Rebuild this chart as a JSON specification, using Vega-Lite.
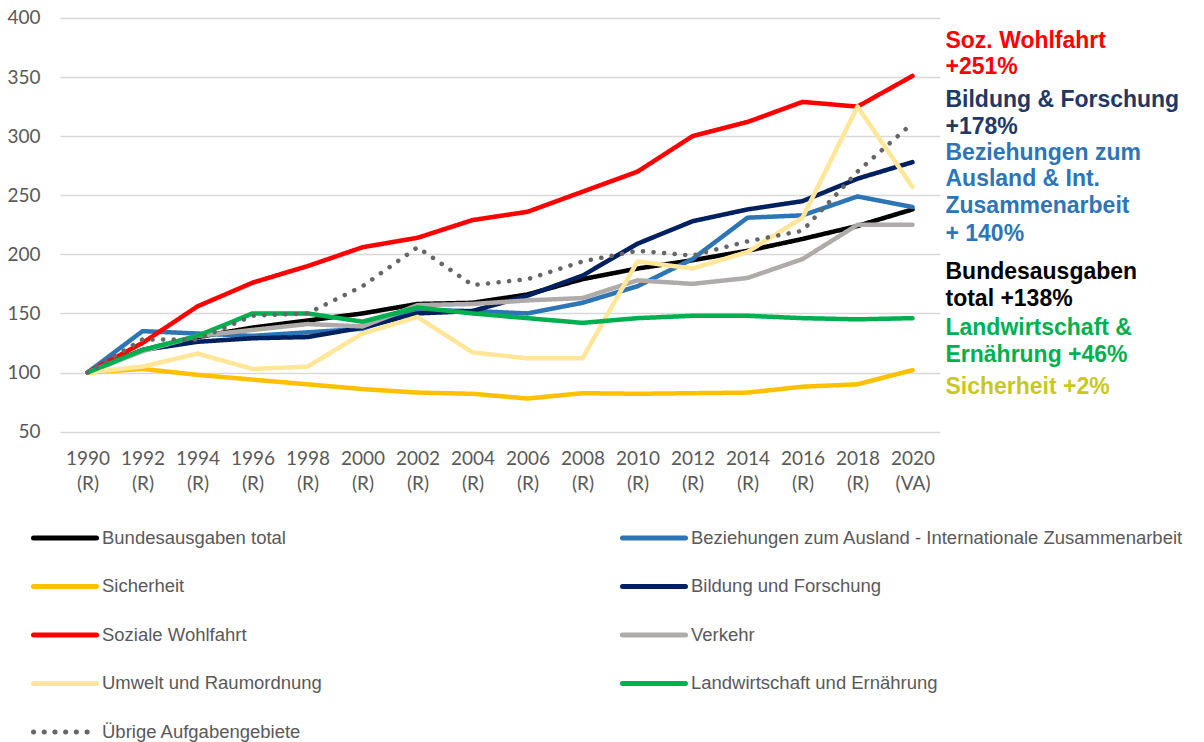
{
  "$schema": "https://vega.github.io/schema/vega-lite/v6.json",
  "width": 880,
  "height": 413.6,
  "autosize": {"type": "none"},
  "padding": {"left": 60, "top": 18, "right": 264, "bottom": 310},
  "background": "white",
  "config": {"view": {"stroke": null}, "font": "Liberation Sans"},
  "datasets": {
    "lines": [
      {"year": "1990", "series": "Bundesausgaben total", "value": 100},
      {"year": "1992", "series": "Bundesausgaben total", "value": 119},
      {"year": "1994", "series": "Bundesausgaben total", "value": 130},
      {"year": "1996", "series": "Bundesausgaben total", "value": 138},
      {"year": "1998", "series": "Bundesausgaben total", "value": 144},
      {"year": "2000", "series": "Bundesausgaben total", "value": 150},
      {"year": "2002", "series": "Bundesausgaben total", "value": 158},
      {"year": "2004", "series": "Bundesausgaben total", "value": 159},
      {"year": "2006", "series": "Bundesausgaben total", "value": 166},
      {"year": "2008", "series": "Bundesausgaben total", "value": 179},
      {"year": "2010", "series": "Bundesausgaben total", "value": 188},
      {"year": "2012", "series": "Bundesausgaben total", "value": 195},
      {"year": "2014", "series": "Bundesausgaben total", "value": 203},
      {"year": "2016", "series": "Bundesausgaben total", "value": 213},
      {"year": "2018", "series": "Bundesausgaben total", "value": 224},
      {"year": "2020", "series": "Bundesausgaben total", "value": 238},
      {"year": "1990", "series": "Beziehungen zum Ausland - Internationale Zusammenarbeit", "value": 100},
      {"year": "1992", "series": "Beziehungen zum Ausland - Internationale Zusammenarbeit", "value": 135},
      {"year": "1994", "series": "Beziehungen zum Ausland - Internationale Zusammenarbeit", "value": 133},
      {"year": "1996", "series": "Beziehungen zum Ausland - Internationale Zusammenarbeit", "value": 131},
      {"year": "1998", "series": "Beziehungen zum Ausland - Internationale Zusammenarbeit", "value": 134},
      {"year": "2000", "series": "Beziehungen zum Ausland - Internationale Zusammenarbeit", "value": 137},
      {"year": "2002", "series": "Beziehungen zum Ausland - Internationale Zusammenarbeit", "value": 153},
      {"year": "2004", "series": "Beziehungen zum Ausland - Internationale Zusammenarbeit", "value": 152},
      {"year": "2006", "series": "Beziehungen zum Ausland - Internationale Zusammenarbeit", "value": 150},
      {"year": "2008", "series": "Beziehungen zum Ausland - Internationale Zusammenarbeit", "value": 159},
      {"year": "2010", "series": "Beziehungen zum Ausland - Internationale Zusammenarbeit", "value": 173},
      {"year": "2012", "series": "Beziehungen zum Ausland - Internationale Zusammenarbeit", "value": 196},
      {"year": "2014", "series": "Beziehungen zum Ausland - Internationale Zusammenarbeit", "value": 231},
      {"year": "2016", "series": "Beziehungen zum Ausland - Internationale Zusammenarbeit", "value": 233},
      {"year": "2018", "series": "Beziehungen zum Ausland - Internationale Zusammenarbeit", "value": 249},
      {"year": "2020", "series": "Beziehungen zum Ausland - Internationale Zusammenarbeit", "value": 240},
      {"year": "1990", "series": "Sicherheit", "value": 100},
      {"year": "1992", "series": "Sicherheit", "value": 103},
      {"year": "1994", "series": "Sicherheit", "value": 98},
      {"year": "1996", "series": "Sicherheit", "value": 94},
      {"year": "1998", "series": "Sicherheit", "value": 90},
      {"year": "2000", "series": "Sicherheit", "value": 86},
      {"year": "2002", "series": "Sicherheit", "value": 83},
      {"year": "2004", "series": "Sicherheit", "value": 82},
      {"year": "2006", "series": "Sicherheit", "value": 78},
      {"year": "2008", "series": "Sicherheit", "value": 82.5},
      {"year": "2010", "series": "Sicherheit", "value": 82},
      {"year": "2012", "series": "Sicherheit", "value": 82.5},
      {"year": "2014", "series": "Sicherheit", "value": 83},
      {"year": "2016", "series": "Sicherheit", "value": 88},
      {"year": "2018", "series": "Sicherheit", "value": 90},
      {"year": "2020", "series": "Sicherheit", "value": 102},
      {"year": "1990", "series": "Bildung und Forschung", "value": 100},
      {"year": "1992", "series": "Bildung und Forschung", "value": 119},
      {"year": "1994", "series": "Bildung und Forschung", "value": 126},
      {"year": "1996", "series": "Bildung und Forschung", "value": 129},
      {"year": "1998", "series": "Bildung und Forschung", "value": 130},
      {"year": "2000", "series": "Bildung und Forschung", "value": 138},
      {"year": "2002", "series": "Bildung und Forschung", "value": 150},
      {"year": "2004", "series": "Bildung und Forschung", "value": 152},
      {"year": "2006", "series": "Bildung und Forschung", "value": 165},
      {"year": "2008", "series": "Bildung und Forschung", "value": 182},
      {"year": "2010", "series": "Bildung und Forschung", "value": 209},
      {"year": "2012", "series": "Bildung und Forschung", "value": 228},
      {"year": "2014", "series": "Bildung und Forschung", "value": 238},
      {"year": "2016", "series": "Bildung und Forschung", "value": 245},
      {"year": "2018", "series": "Bildung und Forschung", "value": 264},
      {"year": "2020", "series": "Bildung und Forschung", "value": 278},
      {"year": "1990", "series": "Soziale Wohlfahrt", "value": 100},
      {"year": "1992", "series": "Soziale Wohlfahrt", "value": 125},
      {"year": "1994", "series": "Soziale Wohlfahrt", "value": 156},
      {"year": "1996", "series": "Soziale Wohlfahrt", "value": 176},
      {"year": "1998", "series": "Soziale Wohlfahrt", "value": 190},
      {"year": "2000", "series": "Soziale Wohlfahrt", "value": 206},
      {"year": "2002", "series": "Soziale Wohlfahrt", "value": 214},
      {"year": "2004", "series": "Soziale Wohlfahrt", "value": 229},
      {"year": "2006", "series": "Soziale Wohlfahrt", "value": 236},
      {"year": "2008", "series": "Soziale Wohlfahrt", "value": 253},
      {"year": "2010", "series": "Soziale Wohlfahrt", "value": 270},
      {"year": "2012", "series": "Soziale Wohlfahrt", "value": 300},
      {"year": "2014", "series": "Soziale Wohlfahrt", "value": 312},
      {"year": "2016", "series": "Soziale Wohlfahrt", "value": 329},
      {"year": "2018", "series": "Soziale Wohlfahrt", "value": 325},
      {"year": "2020", "series": "Soziale Wohlfahrt", "value": 351},
      {"year": "1990", "series": "Verkehr", "value": 100},
      {"year": "1992", "series": "Verkehr", "value": 118},
      {"year": "1994", "series": "Verkehr", "value": 131},
      {"year": "1996", "series": "Verkehr", "value": 136},
      {"year": "1998", "series": "Verkehr", "value": 141},
      {"year": "2000", "series": "Verkehr", "value": 139},
      {"year": "2002", "series": "Verkehr", "value": 157},
      {"year": "2004", "series": "Verkehr", "value": 158},
      {"year": "2006", "series": "Verkehr", "value": 161},
      {"year": "2008", "series": "Verkehr", "value": 163},
      {"year": "2010", "series": "Verkehr", "value": 178},
      {"year": "2012", "series": "Verkehr", "value": 175},
      {"year": "2014", "series": "Verkehr", "value": 180},
      {"year": "2016", "series": "Verkehr", "value": 196},
      {"year": "2018", "series": "Verkehr", "value": 225},
      {"year": "2020", "series": "Verkehr", "value": 225},
      {"year": "1990", "series": "Umwelt und Raumordnung", "value": 100},
      {"year": "1992", "series": "Umwelt und Raumordnung", "value": 105},
      {"year": "1994", "series": "Umwelt und Raumordnung", "value": 116},
      {"year": "1996", "series": "Umwelt und Raumordnung", "value": 103},
      {"year": "1998", "series": "Umwelt und Raumordnung", "value": 105},
      {"year": "2000", "series": "Umwelt und Raumordnung", "value": 133},
      {"year": "2002", "series": "Umwelt und Raumordnung", "value": 147},
      {"year": "2004", "series": "Umwelt und Raumordnung", "value": 117},
      {"year": "2006", "series": "Umwelt und Raumordnung", "value": 112},
      {"year": "2008", "series": "Umwelt und Raumordnung", "value": 112},
      {"year": "2010", "series": "Umwelt und Raumordnung", "value": 194},
      {"year": "2012", "series": "Umwelt und Raumordnung", "value": 188},
      {"year": "2014", "series": "Umwelt und Raumordnung", "value": 202},
      {"year": "2016", "series": "Umwelt und Raumordnung", "value": 231},
      {"year": "2018", "series": "Umwelt und Raumordnung", "value": 325},
      {"year": "2020", "series": "Umwelt und Raumordnung", "value": 257},
      {"year": "1990", "series": "Landwirtschaft und Ernährung", "value": 100},
      {"year": "1992", "series": "Landwirtschaft und Ernährung", "value": 119},
      {"year": "1994", "series": "Landwirtschaft und Ernährung", "value": 131},
      {"year": "1996", "series": "Landwirtschaft und Ernährung", "value": 150},
      {"year": "1998", "series": "Landwirtschaft und Ernährung", "value": 150},
      {"year": "2000", "series": "Landwirtschaft und Ernährung", "value": 143},
      {"year": "2002", "series": "Landwirtschaft und Ernährung", "value": 155},
      {"year": "2004", "series": "Landwirtschaft und Ernährung", "value": 150},
      {"year": "2006", "series": "Landwirtschaft und Ernährung", "value": 146},
      {"year": "2008", "series": "Landwirtschaft und Ernährung", "value": 142},
      {"year": "2010", "series": "Landwirtschaft und Ernährung", "value": 146},
      {"year": "2012", "series": "Landwirtschaft und Ernährung", "value": 148},
      {"year": "2014", "series": "Landwirtschaft und Ernährung", "value": 148},
      {"year": "2016", "series": "Landwirtschaft und Ernährung", "value": 146},
      {"year": "2018", "series": "Landwirtschaft und Ernährung", "value": 145},
      {"year": "2020", "series": "Landwirtschaft und Ernährung", "value": 146},
      {"year": "1990", "series": "Übrige Aufgabengebiete", "value": 100},
      {"year": "1992", "series": "Übrige Aufgabengebiete", "value": 128},
      {"year": "1994", "series": "Übrige Aufgabengebiete", "value": 128},
      {"year": "1996", "series": "Übrige Aufgabengebiete", "value": 148},
      {"year": "1998", "series": "Übrige Aufgabengebiete", "value": 150},
      {"year": "2000", "series": "Übrige Aufgabengebiete", "value": 173},
      {"year": "2002", "series": "Übrige Aufgabengebiete", "value": 206},
      {"year": "2004", "series": "Übrige Aufgabengebiete", "value": 174},
      {"year": "2006", "series": "Übrige Aufgabengebiete", "value": 179},
      {"year": "2008", "series": "Übrige Aufgabengebiete", "value": 194},
      {"year": "2010", "series": "Übrige Aufgabengebiete", "value": 203},
      {"year": "2012", "series": "Übrige Aufgabengebiete", "value": 199},
      {"year": "2014", "series": "Übrige Aufgabengebiete", "value": 211},
      {"year": "2016", "series": "Übrige Aufgabengebiete", "value": 220},
      {"year": "2018", "series": "Übrige Aufgabengebiete", "value": 270},
      {"year": "2020", "series": "Übrige Aufgabengebiete", "value": 311}
    ],
    "notes": [
      {"text": "Soz. Wohlfahrt", "group": "sw", "level": 374.3},
      {"text": "+251%", "group": "sw", "level": 352.9},
      {"text": "Bildung & Forschung", "group": "bf", "level": 324.3},
      {"text": "+178%", "group": "bf", "level": 302.0},
      {"text": "Beziehungen zum", "group": "ba", "level": 280.0},
      {"text": "Ausland & Int.", "group": "ba", "level": 257.6},
      {"text": "Zusammenarbeit", "group": "ba", "level": 234.7},
      {"text": "+ 140%", "group": "ba", "level": 211.6},
      {"text": "Bundesausgaben", "group": "bt", "level": 179.1},
      {"text": "total +138%", "group": "bt", "level": 156.5},
      {"text": "Landwirtschaft &", "group": "le", "level": 131.7},
      {"text": "Ernährung +46%", "group": "le", "level": 108.5},
      {"text": "Sicherheit +2%", "group": "si", "level": 82.2}
    ]
  },
  "layer": [
    {
      "data": {"name": "lines"},
      "mark": {"type": "line", "strokeWidth": 4.5, "strokeCap": "round", "strokeJoin": "round"},
      "encoding": {
        "x": {
          "field": "year", "type": "ordinal",
          "scale": {"type": "point", "padding": 0.5},
          "axis": {
            "title": null, "domain": false, "ticks": false, "grid": false, "labelAngle": 0,
            "labelPadding": 18, "labelFontSize": 19, "labelFont": "Lato", "labelColor": "#595959",
            "labelLineHeight": 25,
            "labelExpr": "[datum.value, datum.value == '2020' ? '(VA)' : '(R)']"
          }
        },
        "y": {
          "field": "value", "type": "quantitative",
          "scale": {"domain": [50, 400], "nice": false, "zero": false},
          "axis": {
            "title": null, "domain": false, "ticks": false,
            "values": [50, 100, 150, 200, 250, 300, 350, 400],
            "labelPadding": 20, "labelFontSize": 19, "labelFont": "Lato", "labelColor": "#595959",
            "gridColor": "#D9D9D9", "gridWidth": 1.5
          }
        },
        "color": {
          "field": "series", "type": "nominal",
          "scale": {
            "domain": ["Bundesausgaben total", "Beziehungen zum Ausland - Internationale Zusammenarbeit", "Sicherheit", "Bildung und Forschung", "Soziale Wohlfahrt", "Verkehr", "Umwelt und Raumordnung", "Landwirtschaft und Ernährung", "Übrige Aufgabengebiete"],
            "range": ["#000000", "#2E75B6", "#FFC000", "#002060", "#FF0000", "#AFABAB", "#FFE699", "#00B050", "#666666"]
          },
          "legend": {
            "title": null, "orient": "none", "direction": "horizontal", "legendX": -29, "legendY": 486, "padding": 0,
            "columns": 2, "columnPadding": 289, "rowPadding": 4.5,
            "symbolType": "stroke", "symbolSize": 3969, "symbolStrokeWidth": 5,
            "labelFontSize": 18.5, "labelColor": "#595959", "labelFont": "Liberation Sans",
            "labelLimit": 700, "labelOffset": 3,
            "encode": {
              "symbols": {
                "update": {
                  "strokeCap": {"value": "round"},
                  "strokeDash": {"signal": "datum.value === 'Übrige Aufgabengebiete' ? [0.1, 10.6] : [1, 0]"}
                }
              }
            }
          }
        },
        "strokeDash": {
          "field": "series", "type": "nominal",
          "scale": {
            "domain": ["Bundesausgaben total", "Beziehungen zum Ausland - Internationale Zusammenarbeit", "Sicherheit", "Bildung und Forschung", "Soziale Wohlfahrt", "Verkehr", "Umwelt und Raumordnung", "Landwirtschaft und Ernährung", "Übrige Aufgabengebiete"],
            "range": [[1, 0], [1, 0], [1, 0], [1, 0], [1, 0], [1, 0], [1, 0], [1, 0], [0.1, 10.5]]
          },
          "legend": null
        }
      }
    },
    {
      "data": {"name": "notes"},
      "mark": {"type": "text", "align": "left", "baseline": "alphabetic", "dx": 33, "fontSize": 23, "fontWeight": "bold", "font": "Liberation Sans"},
      "encoding": {
        "x": {"datum": "2020", "type": "ordinal"},
        "y": {"field": "level", "type": "quantitative"},
        "text": {"field": "text"},
        "color": {
          "field": "group", "type": "nominal",
          "scale": {"domain": ["sw", "bf", "ba", "bt", "le", "si"], "range": ["#FF0000", "#203864", "#2E75B6", "#000000", "#00B050", "#C8C81E"]},
          "legend": null
        }
      }
    }
  ],
  "resolve": {"scale": {"color": "independent"}, "legend": {"color": "independent"}}
}
